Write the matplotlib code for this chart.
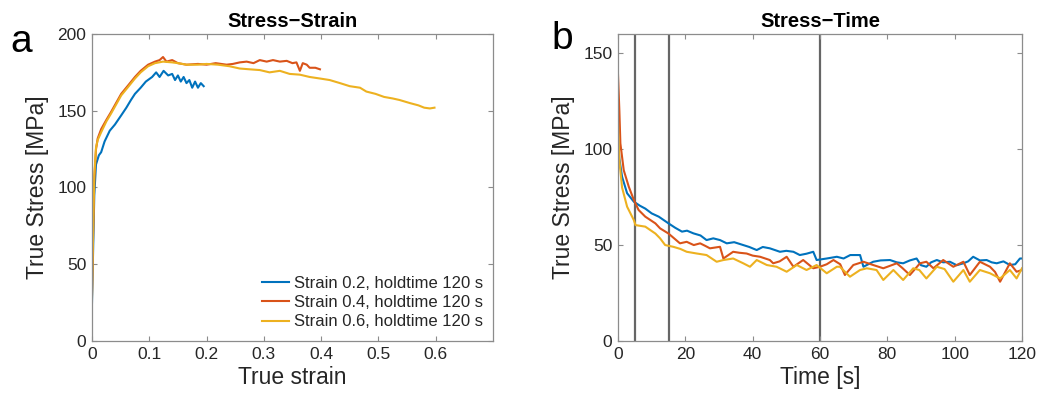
import matplotlib
matplotlib.use("Agg")
import matplotlib.pyplot as plt
from matplotlib.ticker import FormatStrFormatter

plt.rcParams['font.family'] = ['Liberation Sans', 'DejaVu Sans']

# MATLAB default colours
blue = '#0072BD'
orange = '#D95319'
yellow = '#EDB120'

# ---- panel a: stress-strain ----
strain_02 = [0, 0.002, 0.004, 0.007, 0.012, 0.016, 0.022, 0.031, 0.04, 0.051, 0.06, 0.068,
             0.075, 0.085, 0.094, 0.105, 0.112, 0.118, 0.125, 0.133, 0.14, 0.145, 0.15,
             0.155, 0.16, 0.165, 0.17, 0.175, 0.18, 0.185, 0.19, 0.195]
stress_02 = [25, 60, 95, 115, 121, 123, 130, 137, 141, 147, 152, 157,
             161, 165, 169, 172, 175, 172, 176, 173, 174, 170, 173,
             169, 172, 168, 170, 165, 169, 165, 168, 166]

strain_04 = [0, 0.002, 0.004, 0.007, 0.01, 0.016, 0.025, 0.033, 0.042, 0.051, 0.062, 0.075,
             0.085, 0.098, 0.11, 0.118, 0.124, 0.13, 0.14, 0.15, 0.165, 0.185, 0.2, 0.216,
             0.235, 0.246, 0.258, 0.27, 0.282, 0.293, 0.305, 0.316, 0.328, 0.34, 0.35,
             0.357, 0.363, 0.368, 0.375, 0.38, 0.39, 0.398]
stress_04 = [30, 70, 105, 125, 132, 138, 144, 149, 155, 161, 166, 172,
             176, 180, 182, 183, 185, 182, 183, 181, 180, 180.5, 180, 181,
             180, 180.5, 181.5, 182, 181, 183, 182, 183, 182, 182.5, 181,
             181.5, 176, 181, 180, 178, 178, 177]

strain_06 = [0, 0.002, 0.004, 0.007, 0.01, 0.016, 0.025, 0.033, 0.042, 0.051, 0.062, 0.075,
             0.085, 0.098, 0.11, 0.124, 0.14, 0.15, 0.165, 0.185, 0.2, 0.22, 0.24, 0.258,
             0.275, 0.293, 0.31, 0.328, 0.345, 0.363, 0.38, 0.398, 0.415, 0.433, 0.45,
             0.468, 0.479, 0.495, 0.51, 0.525, 0.537, 0.555, 0.57, 0.58, 0.59, 0.598]
stress_06 = [28, 72, 108, 126, 131, 136, 143, 148, 154, 160, 165, 171,
             175, 179, 181, 182, 181.5, 181, 180, 180, 180.5, 180, 179, 177.5,
             177, 176.5, 175, 176, 174, 173.5, 172, 171, 170, 168, 166,
             165, 162.5, 161, 159, 158, 157, 155, 153.5, 152, 151.5, 152]

# ---- panel b: stress-time (hold) ----
time_02 = [0, 0.4, 1.2, 2.7, 4.7, 6.5, 8.1, 10, 12.1, 15, 17, 19, 20.5, 22.4, 24.5, 26.3,
           28.3, 30.3, 32.3, 34.5, 37.2, 39, 41.2, 43, 45.1, 48.1, 50, 52.1, 54, 56, 58,
           59, 62, 65, 67, 69, 71.9, 72.9, 75.8, 78, 80.8, 82.8, 84.7, 86.7, 88.7, 90,
           91.6, 93, 94.7, 96.6, 98.6, 100.6, 102.6, 104, 105.5, 107.5, 109.5, 111, 112.5,
           114.5, 116.4, 118, 119.4, 120]
hold_02 = [106, 95, 85.6, 77, 72.6, 70.5, 69, 66.5, 64.8, 61.3, 59, 57, 57.5, 56.1, 55, 52.6,
           53.5, 52.6, 50.9, 51.5, 50, 49, 47.4, 49, 48.3, 46.5, 47, 46.5, 44.8, 45.5, 46.5,
           42.2, 43, 43.9, 43, 44.8, 44.8, 38.7, 41.3, 42, 42.2, 41, 40.5, 42, 43, 39.5,
           38.7, 41, 42.2, 41, 41.3, 39.5, 40.5, 41.5, 43.9, 42, 42.2, 41, 40.5,
           41.5, 39.6, 40, 43, 43]

time_04 = [0, 0.4, 0.7, 1.7, 3.2, 4.7, 6.1, 8.1, 11.1, 12.5, 15, 17, 18.4, 20.4, 22.5, 24.4,
           26, 27.3, 30.3, 31.3, 34.2, 36, 38.2, 40, 42.2, 45.1, 46.1, 48, 50.1, 52.1, 55,
           58, 60, 62, 64, 66, 67.4, 69.9, 72.9, 75.8, 78.8, 80.5, 82.8, 84.5, 86.7, 89.7,
           91.6, 93.7, 96.6, 99.6, 102.6, 104.5, 107.5, 110.5, 112, 113.5, 116.4, 118.4, 120]
hold_04 = [138.6, 120, 103, 89, 80.4, 73.5, 68.3, 64.8, 61.3, 58.7, 56, 53, 50.9, 51.7, 50, 50.9,
           49.5, 48.3, 49.1, 43, 46.5, 46, 45.6, 44.5, 43.9, 42.2, 40.5, 41.5, 43.9, 38.7, 42.2,
           37.9, 38.7, 40, 42.2, 40, 34.4, 39.6, 41.3, 39.6, 37.9, 39, 40.5, 38, 34.4, 40.5,
           41.3, 37.9, 42.2, 38.7, 41.3, 34.4, 41.3, 38.7, 36, 30.9, 40.5, 36.1, 37]

time_06 = [0, 0.4, 1.2, 2.7, 4.7, 5.2, 8.1, 11.1, 12.5, 14, 16.4, 18.5, 20.4, 23.4, 26.3, 29.3,
           31.3, 34.2, 37.2, 39.2, 41.2, 44.2, 47.1, 50.1, 53.1, 56, 59, 62, 65, 65.9, 68.9,
           71.9, 73.9, 76.8, 78.8, 81.8, 84.7, 87.7, 89.5, 91.6, 94.7, 97, 99.6, 102.6, 104.5,
           107.5, 110.5, 113.5, 116.4, 118.4, 120]
hold_06 = [114, 94, 80, 70, 63, 60.4, 59.6, 56, 53.5, 50, 49.1, 48, 46.5, 45.6, 44.8, 41.3,
           42.2, 43, 40.5, 38.7, 42.2, 39.6, 38.7, 36.1, 39.6, 37, 39.6, 35.3, 38.7, 38.7, 33.5,
           37, 37.9, 37, 31.8, 37, 31.8, 37.9, 37, 32.6, 38.7, 37.5, 30.9, 37, 30.9,
           37, 35.3, 32.6, 37, 32.6, 37.9]

marker_times = [5, 15, 60]
labels = ['Strain 0.2, holdtime 120 s', 'Strain 0.4, holdtime 120 s', 'Strain 0.6, holdtime 120 s']

fig = plt.figure(figsize=(10.55, 3.98), dpi=100)
ax1 = fig.add_axes([0.0872, 0.1432, 0.380, 0.7714])
ax2 = fig.add_axes([0.5858, 0.1432, 0.3829, 0.7714])

def style(ax):
    for s in ax.spines.values():
        s.set_color('#8c8c8c')
        s.set_linewidth(0.9)
    ax.tick_params(direction='in', top=True, right=True, length=3.5, width=0.8,
                   colors='#8c8c8c', labelcolor='#262626', labelsize=12.5, pad=4)

lw = 1.5
ax1.plot(strain_02, stress_02, color=blue, lw=lw, label=labels[0])
ax1.plot(strain_04, stress_04, color=orange, lw=lw, label=labels[1])
ax1.plot(strain_06, stress_06, color=yellow, lw=lw, label=labels[2])
ax1.set_xlim(0, 0.7)
ax1.set_ylim(0, 200)
ax1.set_xticks([0, 0.1, 0.2, 0.3, 0.4, 0.5, 0.6])
ax1.set_yticks([0, 50, 100, 150, 200])
ax1.xaxis.set_major_formatter(FormatStrFormatter('%g'))
ax1.set_xlabel('True strain', fontsize=16.5, color='#262626', labelpad=3)
ax1.set_ylabel('True Stress [MPa]', fontsize=16.5, color='#262626', labelpad=6)
ax1.set_title('Stress\u2212Strain', fontsize=14.5, fontweight='bold', pad=5)
style(ax1)
leg = ax1.legend(loc='lower right', bbox_to_anchor=(1.0, 0.005), frameon=False, fontsize=12,
                 handlelength=1.6, handletextpad=0.3, labelspacing=0.25, borderaxespad=0.2)
for t in leg.get_texts():
    t.set_color('#262626')

for mt in marker_times:
    ax2.axvline(mt, color='#666666', lw=1.6, zorder=1)
ax2.plot(time_02, hold_02, color=blue, lw=lw, zorder=2)
ax2.plot(time_04, hold_04, color=orange, lw=lw, zorder=2)
ax2.plot(time_06, hold_06, color=yellow, lw=lw, zorder=2)
ax2.set_xlim(0, 120)
ax2.set_ylim(0, 160)
ax2.set_xticks([0, 20, 40, 60, 80, 100, 120])
ax2.set_yticks([0, 50, 100, 150])
ax2.set_xlabel('Time [s]', fontsize=16.5, color='#262626', labelpad=3)
ax2.set_ylabel('True Stress [MPa]', fontsize=16.5, color='#262626', labelpad=6)
ax2.set_title('Stress\u2212Time', fontsize=14.5, fontweight='bold', pad=5)
style(ax2)

fig.text(0.010, 0.94, 'a', fontsize=28, va='top', ha='left')
fig.text(0.523, 0.948, 'b', fontsize=28, va='top', ha='left')

fig.savefig('out.png', dpi=100)
